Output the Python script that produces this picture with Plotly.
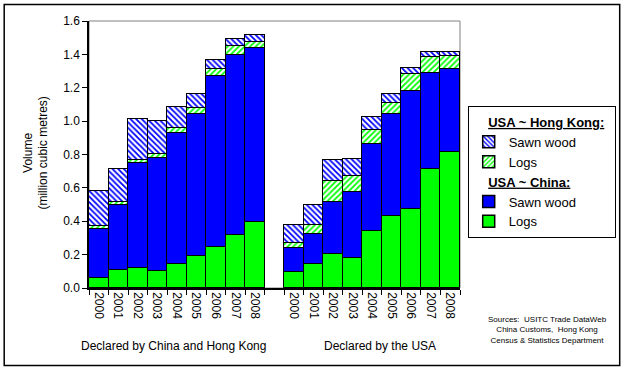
import plotly.graph_objects as go

years = ["2000", "2001", "2002", "2003", "2004", "2005", "2006", "2007", "2008"]
group_labels = ["Declared by China and Hong Kong", "Declared by the USA"]

# Declared by China and Hong Kong (million cubic metres)
cn_logs_a = [0.060, 0.108, 0.120, 0.100, 0.144, 0.192, 0.245, 0.317, 0.397]
cn_sawn_a = [0.293, 0.391, 0.628, 0.678, 0.784, 0.849, 1.024, 1.080, 1.039]
hk_logs_a = [0.016, 0.016, 0.018, 0.024, 0.030, 0.036, 0.042, 0.055, 0.040]
hk_sawn_a = [0.210, 0.197, 0.247, 0.196, 0.129, 0.084, 0.054, 0.038, 0.040]

# Declared by the USA
cn_logs_b = [0.096, 0.144, 0.203, 0.180, 0.341, 0.431, 0.473, 0.712, 0.814]
cn_sawn_b = [0.143, 0.179, 0.312, 0.395, 0.521, 0.610, 0.708, 0.577, 0.497]
hk_logs_b = [0.030, 0.052, 0.125, 0.095, 0.084, 0.066, 0.102, 0.094, 0.078]
hk_sawn_b = [0.108, 0.120, 0.126, 0.102, 0.078, 0.054, 0.034, 0.029, 0.023]

n = len(years)
xa = list(range(n))
xb = [n + 1 + i for i in range(n)]
xs = xa + xb
ticktext = years + years

GREEN = "#00FF00"
BLUE = "#0000FF"
FONT = "Liberation Sans, Arial, sans-serif"

CN_T = "&nbsp;&nbsp;&nbsp;&nbsp;<b><u>USA ~ China:</u></b>"
HK_T = "&nbsp;&nbsp;&nbsp;&nbsp;<b><u>USA ~ Hong Kong:</u></b>"
series = [
    (cn_logs_a + cn_logs_b, GREEN, None, "cn", CN_T, "Logs", 4),
    (cn_sawn_a + cn_sawn_b, BLUE, None, "cn", CN_T, "Sawn wood", 3),
    (hk_logs_a + hk_logs_b, GREEN, "/", "hk", HK_T, "Logs", 2),
    (hk_sawn_a + hk_sawn_b, BLUE, "\\", "hk", HK_T, "Sawn wood", 1),
]

fig = go.Figure()
for vals, col, pat, grp, gtitle, name, rank in series:
    if pat is None:
        marker = dict(color=col, line=dict(color="black", width=1.5))
    else:
        marker = dict(color="white", line=dict(color="black", width=1.5),
                      pattern=dict(shape=pat, fgcolor=col, bgcolor="white",
                                   size=4, solidity=0.45, fillmode="replace"))
    fig.add_trace(go.Bar(x=xs, y=vals, name=name, marker=marker,
                         legendgroup=grp, legendrank=rank,
                         legendgrouptitle=dict(text=gtitle, font=dict(size=13, family=FONT, color="black")),
                         width=1.0))

fig.update_layout(
    template="none",
    width=625, height=370,
    margin=dict(l=89, r=165, t=21, b=82, autoexpand=False),
    paper_bgcolor="white", plot_bgcolor="white",
    barmode="stack", bargap=0,
    font=dict(family=FONT, size=12, color="black"),
    showlegend=True,
    legend=dict(x=(468 - 89.3) / 371, y=(288.3 - 106) / 267.3, xanchor="left", yanchor="top",
                traceorder="grouped", tracegroupgap=0,
                bordercolor="black", borderwidth=1, bgcolor="white",
                font=dict(size=13, family=FONT, color="black"),
                itemwidth=30),
)

fig.update_xaxes(
    automargin=False,
    range=[-0.5, 2 * n + 0.5], tickmode="array", tickvals=xs, ticktext=ticktext,
    tickangle=90, ticks="", showline=True, linecolor="black", linewidth=1.5,
    showgrid=False, zeroline=False, tickfont=dict(size=12),
    minor=dict(tickmode="linear", tick0=0.5, dtick=1, ticks="outside", ticklen=5,
               tickcolor="black", tickwidth=1, showgrid=False),
)
fig.update_yaxes(
    automargin=False,
    range=[0, 1.6], dtick=0.2, tickformat=".1f", ticks="outside", ticklen=5,
    tickcolor="black", showline=True, linecolor="black", linewidth=1.5,
    showgrid=False, zeroline=False, tickfont=dict(size=12),
)

# plot area border (gray, top and right)
fig.add_shape(type="rect", xref="paper", yref="paper", x0=0, x1=1, y0=0, y1=1,
              line=dict(color="#808080", width=1), layer="below")
# outer chart frame
fig.add_shape(type="rect", xref="paper", yref="paper",
              x0=(4.5 - 89.3) / 371, x1=(620 - 89.3) / 371,
              y0=(288.3 - 366) / 267.3, y1=(288.3 - 4.5) / 267.3,
              line=dict(color="black", width=1.5))

fig.add_annotation(text="Volume<br>(million cubic metres)", textangle=-90,
                   xref="paper", yref="paper", x=(36 - 89.3) / 371, y=(288.3 - 153) / 267.3,
                   xanchor="center", yanchor="middle",
                   showarrow=False, font=dict(size=12), align="center")
fig.add_annotation(text=group_labels[0], xref="paper", yref="paper",
                   x=(173.5 - 89.3) / 371, y=(288.3 - 346) / 267.3,
                   xanchor="center", yanchor="middle",
                   showarrow=False, font=dict(size=12))
fig.add_annotation(text=group_labels[1], xref="paper", yref="paper",
                   x=(380.6 - 89.3) / 371, y=(288.3 - 346) / 267.3,
                   xanchor="center", yanchor="middle",
                   showarrow=False, font=dict(size=12))
fig.add_annotation(text="Sources:  USITC Trade DataWeb<br>China Customs,  Hong Kong<br>Census &amp; Statistics Department",
                   xref="paper", yref="paper",
                   x=(548 - 89.3) / 371, y=(288.3 - 330) / 267.3,
                   xanchor="center", yanchor="middle",
                   showarrow=False, font=dict(size=8), align="center")

fig.write_html("out.html", config={"displayModeBar": False},
               post_script="document.body.style.margin='0';")
